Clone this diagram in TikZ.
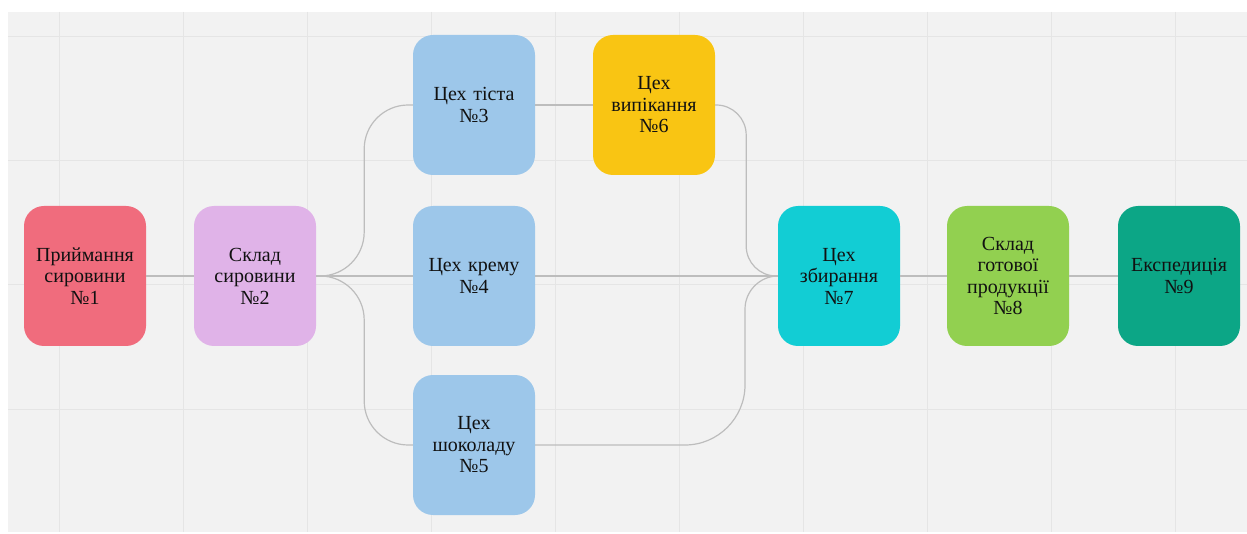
\documentclass[tikz,border=0pt]{standalone}
\usepackage{fontspec}
\setmainfont{Liberation Serif}
\definecolor{bggray}{HTML}{F2F2F2}
\definecolor{gridgray}{HTML}{E5E5E5}
\definecolor{conncol}{HTML}{BDBDBD}
\definecolor{cA}{HTML}{F06C7D}
\definecolor{cB}{HTML}{E0B3E8}
\definecolor{cC}{HTML}{9DC7EA}
\definecolor{cD}{HTML}{F9C513}
\definecolor{cE}{HTML}{12CDD4}
\definecolor{cF}{HTML}{92D050}
\definecolor{cG}{HTML}{0CA686}
\definecolor{txt}{HTML}{111111}
\begin{document}
\begin{tikzpicture}[x=1pt,y=-1pt,
  box/.style={rectangle,rounded corners=20pt,minimum width=122pt,minimum height=140pt,
    text width=120pt,align=center,inner sep=0pt,text=txt,
    font=\fontsize{20}{21.5}\selectfont},
  conn/.style={draw=conncol,line width=1.2pt}]
\useasboundingbox (0,0) rectangle (1247,534);
\fill[white] (0,0) rectangle (1247,534);
\fill[bggray] (8,12) rectangle (1247,532);
\foreach \gx in {59,183,...,1180} \draw[gridgray,line width=1pt] (\gx,12) -- (\gx,532);
\foreach \gy in {37,161,285,409} \draw[gridgray,line width=1pt] (8,\gy) -- (1247,\gy);
% nodes
\node[box,fill=cA] (n1) at (85,276) {Приймання\\сировини\\№1};
\node[box,fill=cB] (n2) at (255,276) {Склад\\сировини\\№2};
\node[box,fill=cC] (n3) at (474,105) {Цех тіста\\№3};
\node[box,fill=cC] (n4) at (474,276) {Цех крему\\№4};
\node[box,fill=cC] (n5) at (474,445) {Цех\\шоколаду\\№5};
\node[box,fill=cD] (n6) at (654,105) {Цех\\випікання\\№6};
\node[box,fill=cE] (n7) at (839,276) {Цех\\збирання\\№7};
\node[box,fill=cF] (n8) at (1008,276) {Склад\\готової\\продукції\\№8};
\node[box,fill=cG] (n9) at (1179,276) {Експедиція\\№9};
% connectors
\draw[conn] (n1.east) -- (n2.west);
\draw[conn] (n2.east) -- (n4.west);
\draw[conn,rounded corners=44pt] (n2.east) -- ++(48,0) |- (n3.west);
\draw[conn,rounded corners=44pt] (n2.east) -- ++(48,0) |- (n5.west);
\draw[conn] (n3.east) -- (n6.west);
\draw[conn] (n4.east) -- (n7.west);
\draw[conn,rounded corners=30pt] (n6.east) -- ++(31,0) |- (n7.west);
\draw[conn] (n5.east) -- (685,445) .. controls (718,445) and (745,418) .. (745,385)
  -- (745,309) .. controls (745,291) and (760,276) .. (n7.west);
\draw[conn] (n7.east) -- (n8.west);
\draw[conn] (n8.east) -- (n9.west);
\end{tikzpicture}
\end{document}
